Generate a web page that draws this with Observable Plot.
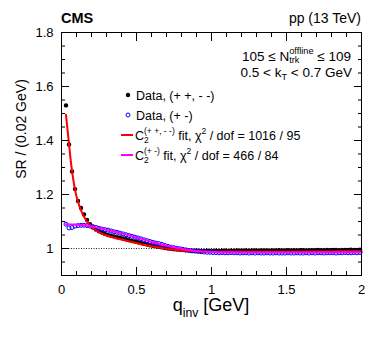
<!DOCTYPE html>
<html><head><meta charset="utf-8">
<script src="https://cdn.jsdelivr.net/npm/d3@7"></script>
<script src="https://cdn.jsdelivr.net/npm/@observablehq/plot@0.6"></script>
<style>
body{margin:0;background:#fff;}
svg{font-family:"Liberation Sans",Arial,sans-serif;}
svg text{white-space:pre;}
</style>
</head><body><div id="chart"></div>
<script>
// q_inv bin centres [GeV]
const qBins = [0.03,0.05,0.07,0.09,0.11,0.13,0.15,0.17,0.19,0.21,0.23,0.25,0.27,0.29,0.31,0.33,0.35,0.37,0.39,0.41,0.43,0.45,0.47,0.49,0.51,0.53,0.55,0.57,0.59,0.61,0.63,0.65,0.67,0.69,0.71,0.73,0.75,0.77,0.79,0.81,0.83,0.85,0.87,0.89,0.91,0.93,0.95,0.97,0.99,1.01,1.03,1.05,1.07,1.09,1.11,1.13,1.15,1.17,1.19,1.21,1.23,1.25,1.27,1.29,1.31,1.33,1.35,1.37,1.39,1.41,1.43,1.45,1.47,1.49,1.51,1.53,1.55,1.57,1.59,1.61,1.63,1.65,1.67,1.69,1.71,1.73,1.75,1.77,1.79,1.81,1.83,1.85,1.87,1.89,1.91,1.93,1.95,1.97,1.99];
// Data, (+ +, - -)
const srSame = [1.530,1.385,1.285,1.220,1.176,1.150,1.126,1.106,1.090,1.078,1.070,1.064,1.059,1.054,1.050,1.047,1.045,1.042,1.040,1.037,1.034,1.031,1.028,1.026,1.023,1.020,1.017,1.015,1.012,1.010,1.008,1.006,1.004,1.002,1.000,0.999,0.997,0.996,0.995,0.994,0.993,0.993,0.992,0.992,0.992,0.991,0.991,0.992,0.991,0.991,0.992,0.991,0.992,0.992,0.991,0.992,0.992,0.993,0.992,0.992,0.993,0.992,0.993,0.993,0.992,0.993,0.993,0.993,0.992,0.993,0.993,0.994,0.993,0.993,0.994,0.993,0.994,0.993,0.994,0.994,0.993,0.994,0.994,0.994,0.995,0.994,0.994,0.995,0.994,0.995,0.995,0.994,0.995,0.995,0.995,0.996,0.995,0.995,0.996];
// Data, (+ -)
const srOpp = [1.090,1.076,1.078,1.083,1.085,1.086,1.086,1.085,1.083,1.081,1.078,1.075,1.072,1.070,1.068,1.065,1.062,1.060,1.057,1.054,1.051,1.048,1.045,1.042,1.039,1.036,1.032,1.029,1.026,1.023,1.020,1.018,1.015,1.011,1.008,1.005,1.003,1.001,0.999,0.997,0.995,0.993,0.991,0.990,0.989,0.988,0.987,0.986,0.986,0.985,0.985,0.984,0.985,0.984,0.984,0.985,0.984,0.984,0.983,0.984,0.984,0.983,0.984,0.983,0.984,0.983,0.983,0.984,0.983,0.983,0.984,0.983,0.983,0.983,0.984,0.983,0.983,0.984,0.983,0.983,0.984,0.983,0.984,0.983,0.984,0.984,0.983,0.984,0.984,0.984,0.983,0.984,0.984,0.985,0.984,0.984,0.985,0.984,0.985];
// C2 (+ +, - -) fit
const fitSameQ = [0.03,0.04,0.05,0.06,0.07,0.08,0.09,0.10,0.12,0.14,0.16,0.18,0.20,0.25,0.30,0.35,0.40,0.50,0.60,0.70,0.80,0.90,1.00,1.50,2.00];
const fitSameV = [1.495,1.440,1.388,1.333,1.288,1.250,1.219,1.193,1.156,1.129,1.108,1.092,1.079,1.060,1.048,1.040,1.033,1.020,1.008,0.999,0.993,0.990,0.988,0.988,0.990];
// C2 (+ -) fit
const fitOppQ = [0.03,0.10,0.15,0.20,0.25,0.30,0.40,0.50,0.60,0.70,0.80,0.90,1.00,1.20,1.50,2.00];
const fitOppV = [1.090,1.088,1.086,1.082,1.076,1.069,1.056,1.041,1.025,1.010,0.999,0.991,0.987,0.985,0.985,0.986];
// axis ticks
const xMajor = [0, 0.5, 1, 1.5, 2];
const xMinor = [0.1,0.2,0.3,0.4,0.6,0.7,0.8,0.9,1.1,1.2,1.3,1.4,1.6,1.7,1.8,1.9];
const yMajor = [1, 1.2, 1.4, 1.6, 1.8];
const yMinor = [0.95,1.05,1.1,1.15,1.25,1.3,1.35,1.45,1.5,1.55,1.65,1.7,1.75];

const points = qBins.map((q, i) => ({q, same: srSame[i], opp: srOpp[i]}));
const fitSame = fitSameQ.map((q, i) => ({q, v: fitSameV[i]}));
const fitOpp = fitOppQ.map((q, i) => ({q, v: fitOppV[i]}));

const fmt = d3.format("~g");
const none = () => "";
const chart = Plot.plot({
  width: 374, height: 338,
  marginLeft: 61, marginRight: 13, marginTop: 32, marginBottom: 63,
  x: {domain: [0, 2], label: null},
  y: {domain: [0.9, 1.8], label: null},
  style: {fontFamily: "Liberation Sans, Arial, sans-serif", fontSize: "13px", color: "black", background: "white", overflow: "visible"},
  marks: [
    Plot.ruleY([1], {stroke: "#222", strokeDasharray: "1,1.5", strokeWidth: 1}),
    Plot.dot(points, {x: "q", y: "same", r: 2.2, fill: "black", stroke: "none"}),
    Plot.dot(points, {x: "q", y: "opp", r: 2, fill: "none", stroke: "#0000ff", strokeWidth: 1}),
    Plot.line(fitSame, {x: "q", y: "v", stroke: "#ff0000", strokeWidth: 2, curve: "monotone-x"}),
    Plot.line(fitOpp, {x: "q", y: "v", stroke: "#ff00ff", strokeWidth: 2, curve: "monotone-x"}),
    Plot.axisX({ticks: xMajor, tickSize: 0, tickPadding: 9, tickFormat: fmt, fontSize: 13, label: null}),
    Plot.axisX({ticks: xMajor, tickSize: -8, tickFormat: none, label: null}),
    Plot.axisX({ticks: xMinor, tickSize: -4, tickFormat: none, label: null}),
    Plot.axisX({anchor: "top", ticks: xMajor, tickSize: -8, tickFormat: none, label: null}),
    Plot.axisX({anchor: "top", ticks: xMinor, tickSize: -4, tickFormat: none, label: null}),
    Plot.axisY({ticks: yMajor, tickSize: 0, tickPadding: 8, tickFormat: fmt, fontSize: 13, label: null}),
    Plot.axisY({ticks: yMajor, tickSize: -8, tickFormat: none, label: null}),
    Plot.axisY({ticks: yMinor, tickSize: -4, tickFormat: none, label: null}),
    Plot.axisY({anchor: "right", ticks: yMajor, tickSize: -8, tickFormat: none, label: null}),
    Plot.axisY({anchor: "right", ticks: yMinor, tickSize: -4, tickFormat: none, label: null}),
    Plot.frame({stroke: "black", strokeWidth: 1})
  ]
});
document.getElementById("chart").append(chart);

const svg = d3.select(chart);
// rich text: segments {t} or {sup, sub}
function rich(x, y, segs, size, anchor, rotate) {
  const g = svg.append("g").attr("text-anchor", "start").attr("fill", "black");
  let cx = 0;
  for (const s of segs) {
    if (s.t !== undefined) {
      const e = g.append("text").attr("x", cx).attr("y", 0).attr("font-size", size)
        .attr("text-anchor", "start")
        .attr("font-weight", s.bold ? "bold" : null).text(s.t);
      cx += e.node().getComputedTextLength();
    } else {
      let w = 0;
      const ss = size * 0.68;
      if (s.sup !== undefined) {
        const e = g.append("text").attr("x", cx).attr("y", -size * (s.supOff ?? 0.42)).attr("font-size", ss).attr("text-anchor", "start").text(s.sup);
        w = Math.max(w, e.node().getComputedTextLength());
      }
      if (s.sub !== undefined) {
        const e = g.append("text").attr("x", cx).attr("y", size * (s.subOff ?? 0.3)).attr("font-size", ss).attr("text-anchor", "start").text(s.sub);
        w = Math.max(w, e.node().getComputedTextLength());
      }
      cx += w;
    }
  }
  const dx = anchor === "end" ? -cx : anchor === "middle" ? -cx / 2 : 0;
  if (rotate) g.attr("transform", `translate(${x},${y}) rotate(-90) translate(${dx},0)`);
  else g.attr("transform", `translate(${x + dx},${y})`);
  return g;
}

// header
rich(61, 23, [{t: "CMS", bold: true}], 14.5, "start");
rich(361, 23, [{t: "pp (13 TeV)"}], 14, "end");
// annotations
rich(351, 61, [{t: "105 ≤ N"}, {sup: "offline", sub: "trk", supOff: 0.5, subOff: 0.12}, {t: " ≤ 109"}], 13.5, "end");
rich(352, 77, [{t: "0.5 < k"}, {sub: "T", subOff: 0.22}, {t: " < 0.7 GeV"}], 13.5, "end");
// axis titles
rich(211, 311, [{t: "q"}, {sub: "inv", subOff: 0.35}, {t: " [GeV]"}], 18, "middle");
rich(26, 129, [{t: "SR / (0.02 GeV)"}], 14, "middle", true);

// legend
svg.append("circle").attr("cx", 128).attr("cy", 95).attr("r", 2.2).attr("fill", "black");
rich(136, 99.5, [{t: "Data, (+ +, - -)"}], 12.5, "start");
svg.append("circle").attr("cx", 128).attr("cy", 115).attr("r", 2).attr("fill", "none").attr("stroke", "#0000ff");
rich(136, 119.5, [{t: "Data, (+ -)"}], 12.5, "start");
svg.append("line").attr("x1", 121).attr("x2", 133).attr("y1", 135).attr("y2", 135).attr("stroke", "#ff0000").attr("stroke-width", 2);
rich(135, 139.5, [{t: "C"}, {sup: "(+ +, - -)", sub: "2"}, {t: " fit, χ"}, {sup: "2"}, {t: " / dof = 1016 / 95"}], 12.5, "start");
svg.append("line").attr("x1", 121).attr("x2", 133).attr("y1", 155).attr("y2", 155).attr("stroke", "#ff00ff").attr("stroke-width", 2);
rich(135, 159.5, [{t: "C"}, {sup: "(+ -)", sub: "2"}, {t: " fit, χ"}, {sup: "2"}, {t: " / dof = 466 / 84"}], 12.5, "start");
</script>
</body></html>
